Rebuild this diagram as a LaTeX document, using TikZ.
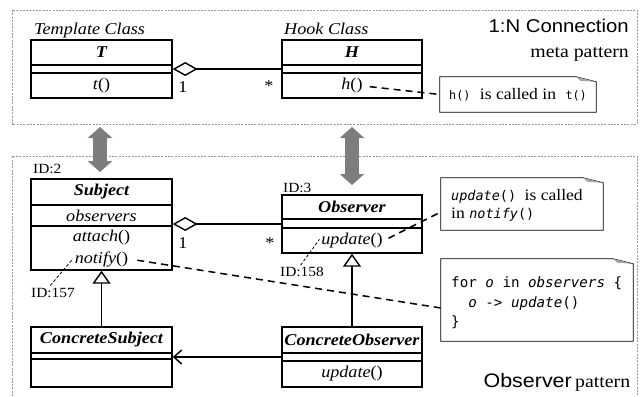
\documentclass[tikz,border=0pt]{standalone}
\usepackage{fontspec}
\setmainfont[FakeStretch=1.1]{Liberation Serif}
\setsansfont[FakeStretch=1.1]{Liberation Sans}
\setmonofont{DejaVu Sans Mono}
\usetikzlibrary{arrows.meta,calc}

\definecolor{linkgray}{RGB}{125,125,125}
\newcommand\clsfont{\fontsize{16.5}{19}\selectfont}
\newcommand\idfont{\fontsize{14}{16}\selectfont}
\newcommand\notefont{\fontsize{16}{18}\selectfont}
\newcommand\codefont{\fontsize{14.2}{19.5}\selectfont\ttfamily}
\newcommand\code[1]{{\fontsize{13.5}{18}\selectfont\ttfamily #1}}
\newcommand\smallcode[1]{{\fontsize{11.8}{16}\selectfont\ttfamily #1}}

% class box: name, x1, y1, x2, y2, first separator, second separator
\newcommand\umlclass[7]{%
  \node[umlbox, minimum width={(#4-#2)*1pt}, minimum height={(#5-#3)*1pt}]
    (#1) at ({(#2+#4)/2},{(#3+#5)/2}) {};
  \draw[umlsep] (#1.west |- 0,#6) -- (#1.east |- 0,#6)
                (#1.west |- 0,#7) -- (#1.east |- 0,#7);
}
% note outline with a folded corner
\newcommand\dogear[1]{%
  \draw[noteline] (#1.north west) -- ([xshift=-20pt]#1.north east)
    -- ([yshift=-5pt]#1.north east) -- (#1.south east) -- (#1.south west) -- cycle;
  \fill[gray!70] ([xshift=-20pt]#1.north east) -- ([yshift=-5pt]#1.north east)
    -- ([xshift=-16pt,yshift=-4pt]#1.north east) -- cycle;
}

\tikzset{
  umlbox/.style={draw, line width=1.4pt, inner sep=0pt},
  umlsep/.style={line width=1.4pt},
  clsname/.style={font=\clsfont\bfseries\itshape, inner sep=1pt},
  member/.style={font=\clsfont, inner sep=1pt},
  stereo/.style={font=\clsfont\itshape, inner sep=1pt, anchor=base west},
  idlabel/.style={font=\idfont, inner sep=1pt},
  mult/.style={font=\clsfont, inner sep=0pt},
  aggr/.style={line width=1.4pt, arrows={Diamond[open,length=25pt,width=14pt]}-},
  gen/.style={line width=1.4pt, arrows=-{Triangle[open,length=13pt,width=18pt]}},
  assoc/.style={line width=1.4pt, arrows=-{Straight Barb[length=8pt,width=14pt]}},
  dashcon/.style={line width=1.5pt, dash pattern=on 7pt off 5pt},
  iddash/.style={line width=0.8pt, dash pattern=on 3pt off 2pt},
  noteline/.style={line width=0.8pt, line join=miter},
  notebox/.style={inner sep=0pt, draw=none},
  frame/.style={draw=gray!80, line width=0.7pt, dash pattern=on 2pt off 1.3pt},
  fatarrow/.style={draw=linkgray, line width=14pt,
    arrows={Triangle[length=11pt,width=24pt]}-{Triangle[length=11pt,width=24pt]}},
}

\begin{document}
\begin{tikzpicture}[x=1pt,y=-1pt]
\useasboundingbox (0,0) rectangle (644,396);

% pattern frames
\draw[frame] (12,10) rectangle (637,124);
\draw[frame] (12,396) -- (12,156) -- (637,156) -- (637,396);

% links between the two frames
\coordinate (la) at (100,127);
\coordinate (lb) at (100,172);
\coordinate (ra) at (352,127);
\coordinate (rb) at (352,185);
\draw[fatarrow] (la) -- (lb);
\draw[fatarrow] (ra) -- (rb);

% ---- 1:N connection meta pattern ----
\umlclass{T}{31}{40}{172}{98}{65}{73}
\umlclass{H}{282}{40}{422}{98}{65}{73}
\node[stereo] (tcl) at (33,35) {Template Class};
\node[stereo] (hcl) at (283,35) {Hook Class};
\node[clsname] (Tn) at (101.5,52.5) {T};
\node[member] (top) at (101.5,86) {\textit{t}()};
\node[clsname] (Hn) at (352,52.5) {H};
\node[member] (hop) at (352,86) {\textit{h}()};

\draw[aggr] (T.east) -- (H.west);
\node[mult] (m1a) at (183,87) {1};
\node[mult] (m1b) at (269,86) {*};

\node[notebox, minimum width=156pt, minimum height=35pt] (n1) at (518,94.5)
  {\notefont\smallcode{h()}\hspace{5pt} is called in\hspace{5pt} \smallcode{t()}};
\dogear{n1}
\draw[dashcon, shorten <=6pt] (hop.east) -- (n1.west);

\node[font=\fontsize{18.5}{20}\selectfont\sffamily, anchor=base east, inner sep=0pt]
  (t1) at (629,33) {1:N Connection};
\node[font=\fontsize{18}{20}\selectfont, anchor=base east, inner sep=0pt]
  (t2) at (629,57) {meta pattern};

% ---- Observer pattern ----
\umlclass{S}{31}{179}{172}{270}{205}{226}
\umlclass{O}{282}{195}{422}{253}{219}{228}
\umlclass{CS}{31}{327}{172}{387}{353}{359}
\umlclass{CO}{282}{327}{422}{387}{353}{361}

\node[idlabel, anchor=base west] (id2) at (32,173) {ID:2};
\node[idlabel, anchor=base west] (id3) at (282,192) {ID:3};

\node[clsname] (Sn) at (101.5,192) {Subject};
\node[member] (obs) at (101.5,215.5) {\textit{observers}};
\node[member] (att) at (101.5,238) {\textit{attach}()};
\node[member] (nfy) at (101.5,259) {\textit{notify}()};

\node[clsname] (On) at (352,207) {Observer};
\node[member] (upd) at (352,240.5) {\textit{update}()};

\node[clsname] (CSn) at (101.5,340) {ConcreteSubject};
\node[clsname] (COn) at (352,340) {ConcreteObserver};
\node[member] (cup) at (352,374) {\textit{update}()};

\draw[aggr] (O.west -| S.east) -- (O.west);
\node[mult] (m2a) at (183,243) {1};
\node[mult] (m2b) at (270,243) {*};

\draw[gen] (CS.north -| Sn) -- (S.south -| Sn);
\draw[gen] (CO.north) -- (O.south);
\draw[assoc] (CO.west) -- (CS.east);

\node[idlabel] (id157) at (53,293) {ID:157};
\node[idlabel] (id158) at (302,272) {ID:158};
\draw[iddash, shorten <=2pt, shorten >=1pt] ([xshift=-4pt]id157.north) -- ([yshift=1pt]nfy.west);
\draw[iddash, shorten <=1pt, shorten >=1pt] ([xshift=-2pt]id158.north) -- ([yshift=2pt]upd.west);

\node[notebox, minimum width=162pt, minimum height=52pt] (n2) at (522,204) {};
\dogear{n2}
\node[font=\notefont, align=left, anchor=west, inner sep=0pt] (n2t) at (451,205)
  {\code{\textit{update}()}\hspace{4pt} is called\\in \code{\textit{notify}()}};

\node[notebox, minimum width=192pt, minimum height=82pt] (n3) at (537,300) {};
\dogear{n3}
\node[font=\codefont, align=left, anchor=west, inner sep=0pt] (n3t) at (451,303)
  {for \textit{o} in \textit{observers} \{\\
   \phantom{xx}\textit{o} -> \textit{update}()\\
   \}};

\draw[dashcon, shorten <=8pt] (nfy.east) -- ([yshift=-8pt]n3.west);
\draw[dashcon, shorten <=5pt] (upd.east) -- ([yshift=-8pt]n2.west);

\node[font=\fontsize{19.5}{21}\selectfont\sffamily, anchor=base east, inner sep=0pt]
  (t3) at (572,387) {Observer};
\node[font=\fontsize{18}{20}\selectfont, anchor=base west, inner sep=0pt]
  (t4) at (575,387) {pattern};
\end{tikzpicture}
\end{document}
